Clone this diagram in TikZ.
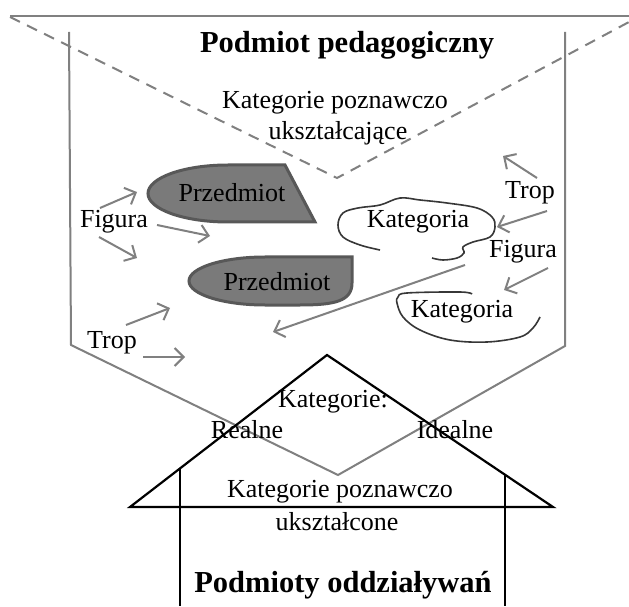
\documentclass[tikz,border=0pt]{standalone}
\usepackage{fontspec}
\setmainfont{Liberation Serif}
\usetikzlibrary{arrows.meta}
\definecolor{lgray}{RGB}{128,128,128}
\definecolor{pfill}{RGB}{122,122,122}
\definecolor{pdraw}{RGB}{88,88,88}
\definecolor{kdraw}{RGB}{55,55,55}
\begin{document}
\begin{tikzpicture}[x=1pt,y=1pt,
  txt/.style={font=\fontsize{26}{28}\selectfont, inner sep=0pt},
  btxt/.style={font=\fontsize{30.5}{33}\selectfont\bfseries, inner sep=0pt},
  grayline/.style={draw=lgray, line width=2pt},
  dashline/.style={draw=lgray, line width=2pt, dash pattern=on 11pt off 8pt},
  arr/.style={draw=lgray, line width=2pt, -{Straight Barb[length=9pt,width=18pt]}},
  house/.style={draw=black, line width=2.2pt},
  przed/.style={fill=pfill, draw=pdraw, line width=3pt},
  cloudline/.style={draw=kdraw, line width=1.6pt}]
\useasboundingbox (0,0) rectangle (629,606);
\fill[white] (0,0) rectangle (629,606);

% top frame
\coordinate (tl) at (10,590);
\coordinate (tr) at (629,590);
\draw[grayline] (tl) -- (tr);
% dashed V
\coordinate (dl) at (10,589);
\coordinate (dv) at (337,428);
\coordinate (dr) at (629,584);
\draw[dashline] (dl) -- (dv) -- (dr);
% gray funnel
\coordinate (gl1) at (69,574);
\coordinate (gl2) at (71,261);
\coordinate (gb) at (338,131);
\coordinate (gr2) at (565,260);
\coordinate (gr1) at (565,574);
\draw[grayline, line join=miter] (gl1) -- (gl2) -- (gb) -- (gr2) -- (gr1);

% house
\coordinate (hl) at (130,99);
\coordinate (ha) at (327,251);
\coordinate (hr) at (553,99);
\draw[house, line join=miter] (hl) -- (ha) -- (hr) -- cycle;
\coordinate (wl1) at (180,137);
\coordinate (wl2) at (180,0);
\coordinate (wr1) at (505,131);
\coordinate (wr2) at (505,0);
\draw[house] (wl1) -- (wl2);
\draw[house] (wr1) -- (wr2);

% Przedmiot shapes
\draw[przed, line join=miter] (315,384) -- (228,384) arc[start angle=270, end angle=90, x radius=80, y radius=28.5] -- (285,441) -- cycle;
\draw[przed] (265,349) -- (352,349) -- (352,323) .. controls (352,305) and (335,301) .. (300,301) -- (265,301) arc[start angle=270, end angle=90, x radius=76, y radius=24] -- cycle;

% Kategoria outlines
\draw[cloudline] plot[smooth, tension=0.6] coordinates {(380,356) (360,361) (343,369) (338,381) (343,393) (358,398) (380,401) (400,408) (420,406) (447,403) (477,398) (492,389) (495,379) (490,369) (473,364) (463,359) (464,353) (457,348) (443,346) (432,348)};
\draw[cloudline] plot[smooth, tension=0.6] coordinates {(472,312) (460,314) (407,313) (398,309) (397,303) (403,289) (420,276) (450,266) (487,264) (520,269) (533,278) (540,289)};

% texts
\node[btxt] (pp) at (347,561) {Podmiot pedagogiczny};
\node[txt] (kp1) at (335,503) {Kategorie poznawczo};
\node[txt] (kp2) at (338,473) {ukształcające};
\node[txt] (p1) at (232,413) {Przedmiot};
\node[txt] (p2) at (277,324) {Przedmiot};
\node[txt] (figl) at (114,384) {Figura};
\node[txt] (tropl) at (112,263) {Trop};
\node[txt] (tropr) at (530,413) {Trop};
\node[txt] (figr) at (523,354) {Figura};
\node[txt] (k1) at (418,384) {Kategoria};
\node[txt] (k2) at (462,294) {Kategoria};
\node[txt] (kat) at (333,204) {Kategorie:};
\node[txt] (real) at (247,176) {Realne};
\node[txt] (ideal) at (455,176) {Idealne};
\node[txt] (kpb1) at (340,114) {Kategorie poznawczo};
\node[txt] (kpb2) at (337,84) {ukształcone};
\node[btxt] (po) at (343,21) {Podmioty oddziaływań};

% arrows
\coordinate (a1s) at (100,398); \coordinate (a1e) at (137,414);
\coordinate (a2s) at (157,381); \coordinate (a2e) at (210,370);
\coordinate (a3s) at (99,369);  \coordinate (a3e) at (137,348);
\coordinate (a4s) at (126,281); \coordinate (a4e) at (170,298);
\coordinate (a5s) at (143,249); \coordinate (a5e) at (185,249);
\coordinate (a6s) at (465,341); \coordinate (a6e) at (273,274);
\coordinate (a7s) at (537,428); \coordinate (a7e) at (503,450);
\coordinate (a8s) at (547,395); \coordinate (a8e) at (497,379);
\coordinate (a9s) at (548,338); \coordinate (a9e) at (504,316);
\foreach \i in {1,...,9} {\draw[arr] (a\i s) -- (a\i e);}
\end{tikzpicture}
\end{document}
